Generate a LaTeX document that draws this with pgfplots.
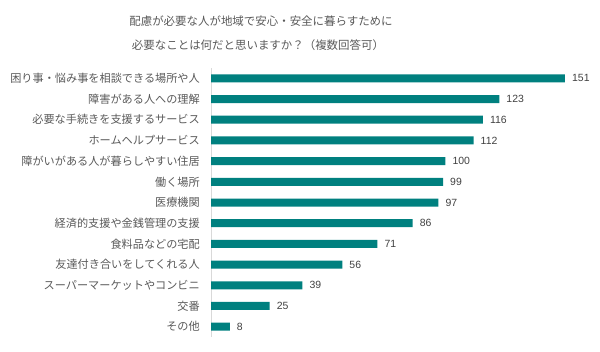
\documentclass[border=0pt]{standalone}
\usepackage{fontspec}
\setmainfont{Noto Sans CJK JP}
\newfontfamily\numfont{Liberation Sans}
\usepackage{pgfplots}
\pgfplotsset{compat=1.18}
\definecolor{barc}{HTML}{00807F}
\definecolor{txt}{HTML}{595959}
\definecolor{num}{HTML}{404040}
\definecolor{axl}{HTML}{D9D9D9}
\begin{document}
\begin{tikzpicture}[x=1bp,y=1bp]
\path[use as bounding box] (0,0) rectangle (600,351);
\node[text=txt, font=\fontsize{11.5}{14}\selectfont] at (261,330) {配慮が必要な人が地域で安心・安全に暮らすために};
\node[text=txt, font=\fontsize{11.5}{14}\selectfont] at (258,306) {必要なことは何だと思いますか？（複数回答可）};
\begin{axis}[
  at={(211bp,14bp)}, anchor=south west,
  scale only axis, width=375bp, height=269bp,
  xbar, bar width=8bp,
  xmin=0, xmax=160,
  ymin=-0.5, ymax=12.5, y dir=reverse,
  axis x line=none, axis y line*=left,
  y axis line style={draw=axl, line width=0.8bp},
  ytick={0,...,12},
  yticklabels={困り事・悩み事を相談できる場所や人, 障害がある人への理解, 必要な手続きを支援するサービス, ホームヘルプサービス, 障がいがある人が暮らしやすい住居, 働く場所, 医療機関, 経済的支援や金銭管理の支援, 食料品などの宅配, 友達付き合いをしてくれる人, スーパーマーケットやコンビニ, 交番, その他},
  major tick length=0pt,
  yticklabel style={font=\fontsize{11.2}{13}\selectfont, text=txt, inner sep=0pt, xshift=-11bp},
  nodes near coords,
  every node near coord/.append style={font=\numfont\fontsize{10.5}{12}\selectfont, text=num, inner sep=0pt, xshift=7bp},
  /pgf/number format/assume math mode=true,
]
\addplot[fill=barc, draw=none] coordinates {
(151,0) (123,1) (116,2) (112,3) (100,4) (99,5) (97,6) (86,7) (71,8) (56,9) (39,10) (25,11) (8,12)};
\end{axis}
\end{tikzpicture}
\end{document}
